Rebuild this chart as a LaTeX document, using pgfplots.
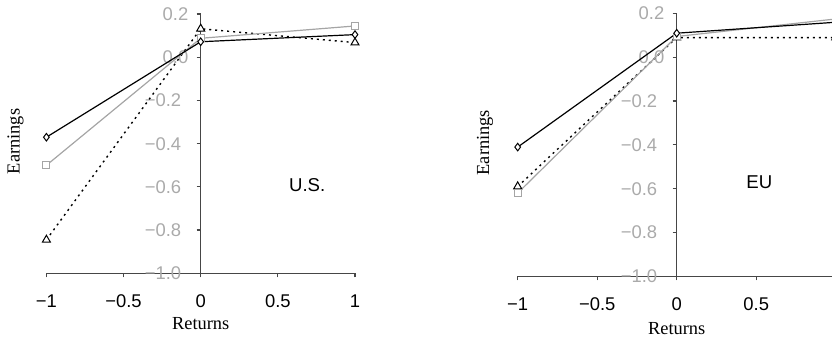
\documentclass[border=0pt]{standalone}
\usepackage{pgfplots}
\pgfplotsset{compat=1.18}
\usepackage{fontspec}
\setmainfont{Liberation Serif}
\setsansfont{Liberation Sans}
\definecolor{axgray}{RGB}{70,70,70}
\definecolor{lblgray}{RGB}{170,170,170}
\definecolor{linegray}{RGB}{165,165,165}
\pgfplotsset{
  panel/.style={
    scale only axis, clip=false,
    xmin=-1, xmax=1, ymin=-1, ymax=0.2,
    axis x line=bottom, axis y line=middle,
    hide obscured x ticks=false, hide obscured y ticks=false,
    axis line style={draw=axgray, line width=0.6pt, -},
    tick style={draw=axgray, line width=0.6pt},
    tick align=outside, major tick length=2pt,
    xtick={-1,-0.5,0,0.5,1},
    ytick={-1,-0.8,-0.6,-0.4,-0.2,0,0.2},
    yticklabels={{−1.0\kern3.6pt},{−0.8\kern3.6pt},{−0.6\kern3.6pt},{−0.4\kern3.6pt},{−0.2\kern3.6pt},0.0,0.2},
    xticklabel style={font=\sffamily\fontsize{9.2}{11}\selectfont, text=black, anchor=base, inner sep=0pt, yshift=-15pt},
    yticklabel style={font=\sffamily\fontsize{9.2}{11}\selectfont, text=lblgray, anchor=east, inner sep=0pt, xshift=-4pt},
  },
  sdia/.style={black, line width=0.6pt, mark=diamond*, mark size=1.9pt, mark options={fill=white, solid, line width=0.5pt}},
  ssq/.style={linegray, line width=0.6pt, mark=square*, mark size=1.7pt, mark options={fill=white, solid, line width=0.5pt}},
  stri/.style={black, line width=0.7pt, dash pattern=on 1pt off 2pt, mark=triangle*, mark size=2.3pt, mark options={fill=white, solid, line width=0.5pt}},
}
\begin{document}
\begin{tikzpicture}
\useasboundingbox (0,0) rectangle (416pt,170.5pt);
\begin{axis}[panel, x=77.15pt, y=108pt, anchor=south west, at={(23.2pt,33.85pt)},
  xticklabels={−1,−0.5,0,0.5,1}]
\addplot[stri] coordinates {(-1,-0.845) (0,0.132) (1,0.068)};
\addplot[ssq] coordinates {(-1,-0.50) (0,0.088) (1,0.145)};
\addplot[sdia] coordinates {(-1,-0.37) (0,0.072) (1,0.105)};
\node[font=\sffamily\fontsize{9.3}{11}\selectfont] at (axis cs:0.69,-0.59) {U.S.};
\node[font=\fontsize{9.2}{11}\selectfont, anchor=base] at (axis cs:0,-1.262) {Returns};
\node[font=\fontsize{9.2}{11}\selectfont, rotate=90] at (axis cs:-1.2,-0.39) {Earnings};
\end{axis}
\begin{axis}[panel, x=79.5pt, y=109.5pt, anchor=south west, at={(258.85pt,32.35pt)},
  xticklabels={−1,−0.5,0,0.5,{}}]
\addplot[stri] coordinates {(-1,-0.59) (0,0.09) (1,0.09)};
\addplot[ssq] coordinates {(-1,-0.62) (0,0.095) (1,0.175)};
\addplot[sdia] coordinates {(-1,-0.41) (0,0.11) (1,0.16)};
\node[font=\sffamily\fontsize{9.3}{11}\selectfont] at (axis cs:0.52,-0.57) {EU};
\node[font=\fontsize{9.2}{11}\selectfont, anchor=base] at (axis cs:0,-1.265) {Returns};
\node[font=\fontsize{9.2}{11}\selectfont, rotate=90] at (axis cs:-1.206,-0.39) {Earnings};
\end{axis}
\end{tikzpicture}
\end{document}
